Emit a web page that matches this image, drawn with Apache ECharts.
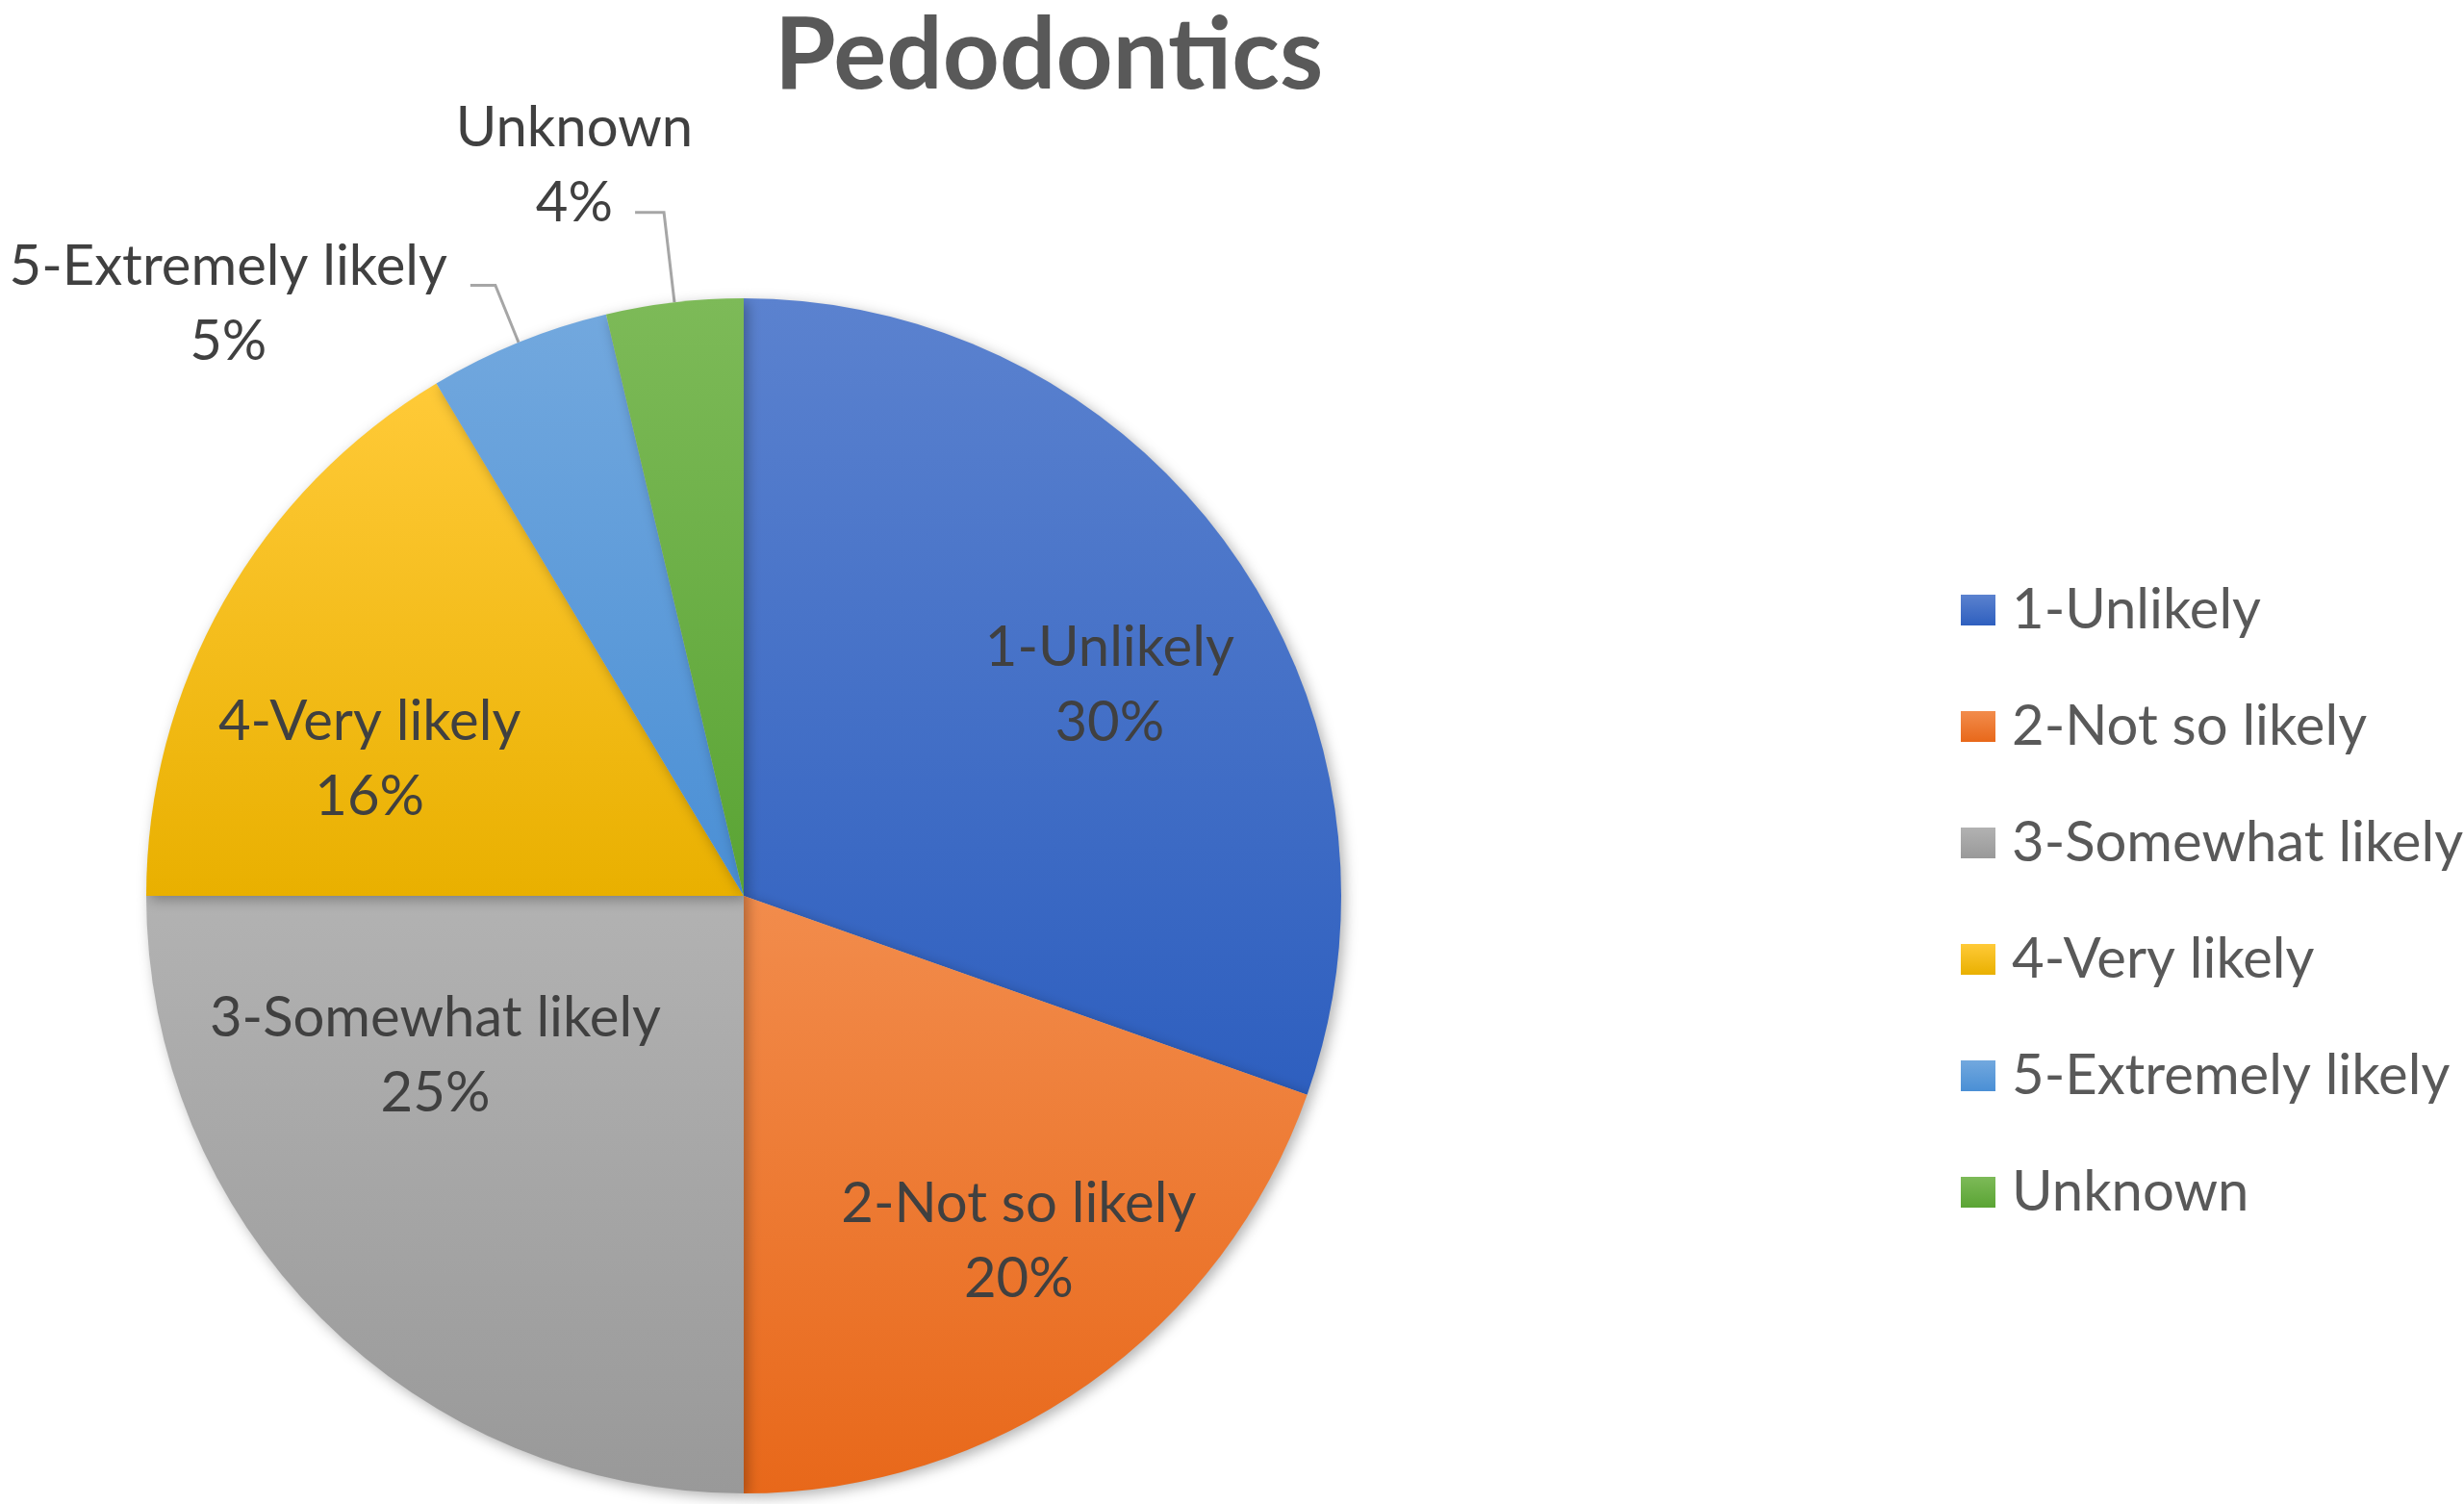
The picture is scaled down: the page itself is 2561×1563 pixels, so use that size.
<!DOCTYPE html>
<html>
<head>
<meta charset="utf-8">
<title>Pedodontics</title>
<script src="https://cdn.jsdelivr.net/npm/echarts@6/dist/echarts.min.js"></script>
<style>
  html, body { margin: 0; padding: 0; background: #fff; }
  #chart { width: 2561px; height: 1563px; }
</style>
</head>
<body>
<div id="chart"></div>
<script>
// data (share of answers, %)
var categories = ['1-Unlikely', '2-Not so likely', '3-Somewhat likely', '4-Very likely', '5-Extremely likely', 'Unknown'];
var shares = [30.4, 19.6, 25.0, 16.4, 4.9, 3.7];

// office-like palette, top / bottom of the gradient
var topColors = ['#5b82cf', '#f28c4c', '#b2b2b2', '#ffca38', '#72a8de', '#7dba58'];
var bottomColors = ['#2e5fbf', '#e8681a', '#999999', '#e9b000', '#4a8fd5', '#5aa434'];

var font = 'Lato, "Open Sans", sans-serif';
var center = [773, 931];
var radius = 621;

var chart = echarts.init(document.getElementById('chart'));

// big slices get their label inside, small ones outside with a leader line
var insideOffsets = [[23, 34], [33, 2], [-11, -143], [-8, 74]];

var pieData = categories.map(function (name, i) {
  var item = {
    name: name,
    value: shares[i],
    itemStyle: {
      color: {
        type: 'linear', x: 0, y: 0, x2: 0, y2: 1,
        colorStops: [{offset: 0, color: topColors[i]}, {offset: 1, color: bottomColors[i]}]
      }
    }
  };
  if (i < 4) {
    item.label = {show: false};
    item.labelLine = {show: false};
  }
  return item;
});
// extra tweaks for the two outside labels
pieData[4].label = {distanceToLabelLine: 24, padding: [40, 0, 0, 0]};
pieData[4].labelLine = {length: 64, length2: 26};
pieData[5].label = {distanceToLabelLine: -60, padding: [0, 0, 98, 0]};
pieData[5].labelLine = {length: 94, length2: 30};

// transparent copy, only used to put the inside labels at ~70% of the radius
var ghostData = categories.map(function (name, i) {
  return {
    name: name,
    value: shares[i],
    label: i < 4 ? {show: true, offset: insideOffsets[i]} : {show: false}
  };
});

chart.setOption({
  backgroundColor: '#ffffff',
  animation: false,
  title: {
    text: 'Pedodontics',
    left: 800,
    top: 2,
    textStyle: {
      fontFamily: font,
      fontSize: 103,
      fontWeight: 'bold',
      color: '#595959'
    }
  },
  legend: {
    orient: 'vertical',
    left: 2033,
    top: 599,
    icon: 'rect',
    itemWidth: 36,
    itemHeight: 32,
    itemGap: 61,
    data: categories,
    textStyle: {
      fontFamily: font,
      fontSize: 58,
      lineHeight: 60,
      color: '#595959',
      padding: [0, 0, 0, 12]
    }
  },
  series: [
    {
      name: 'Pedodontics',
      type: 'pie',
      center: center,
      radius: radius,
      startAngle: 90,
      clockwise: true,
      avoidLabelOverlap: false,
      labelLayout: {hideOverlap: false},
      silent: true,
      percentPrecision: 0,
      data: pieData,
      itemStyle: {
        shadowBlur: 14,
        shadowColor: 'rgba(0,0,0,0.3)',
        shadowOffsetX: 4,
        shadowOffsetY: 4
      },
      label: {
        show: true,
        position: 'outside',
        formatter: '{c|{b}}\n{c|{d}%}',
        fontFamily: font,
        fontSize: 58,
        lineHeight: 78,
        color: '#404040',
        rich: {
          c: {align: 'center', fontFamily: font, fontSize: 58, lineHeight: 78, color: '#404040'}
        }
      },
      labelLine: {
        show: true,
        smooth: false,
        lineStyle: {color: '#a6a6a6', width: 3}
      }
    },
    {
      name: 'labels',
      type: 'pie',
      center: center,
      radius: radius * 1.4,
      startAngle: 90,
      clockwise: true,
      avoidLabelOverlap: false,
      labelLayout: {hideOverlap: false},
      silent: true,
      percentPrecision: 0,
      data: ghostData,
      itemStyle: {color: 'rgba(0,0,0,0)'},
      emphasis: {disabled: true},
      labelLine: {show: false},
      label: {
        position: 'inside',
        formatter: '{c|{b}}\n{c|{d}%}',
        fontFamily: font,
        fontSize: 58,
        lineHeight: 78,
        color: '#404040',
        rich: {
          c: {align: 'center', fontFamily: font, fontSize: 58, lineHeight: 78, color: '#404040'}
        }
      }
    }
  ]
});
</script>
</body>
</html>
